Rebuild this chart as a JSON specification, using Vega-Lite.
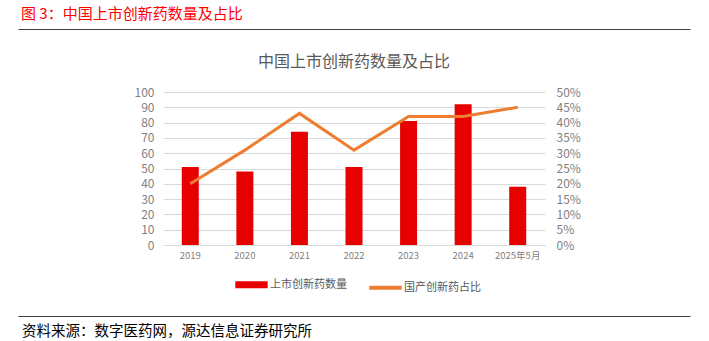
{
  "$schema": "https://vega.github.io/schema/vega-lite/v6.json",
  "padding": {"left": 18, "top": 7, "right": 19, "bottom": 0},
  "background": "white",
  "config": {"font": "Noto Sans CJK SC", "view": {"stroke": null}},
  "title": {"text": "图 3：中国上市创新药数量及占比", "anchor": "start", "color": "#ff0000", "fontSize": 15, "fontWeight": "normal", "offset": 6, "dx": 3},
  "center": true,
  "bounds": "flush",
  "spacing": 63,
  "resolve": {"scale": {"color": "independent"}, "legend": {"color": "independent"}},
  "vconcat": [
    {
      "width": 672,
      "height": 1,
      "data": {"values": [{"v": 0}, {"v": 1}]},
      "mark": {"type": "rule", "opacity": 0},
      "encoding": {
        "x": {"field": "v", "type": "quantitative", "scale": {"nice": false}, "axis": {"orient": "bottom", "labels": false, "ticks": false, "grid": false, "title": null, "domainColor": "#404040", "domainWidth": 1.2}}
      }
    },
    {
      "width": 382,
      "height": 153,
      "title": {"text": "中国上市创新药数量及占比", "anchor": "middle", "color": "#595959", "fontSize": 16, "fontWeight": "normal", "offset": 16},
      "data": {"values": [
        {"year": "2019", "count": 51, "share": 0.20},
        {"year": "2020", "count": 48, "share": 0.31},
        {"year": "2021", "count": 74, "share": 0.43},
        {"year": "2022", "count": 51, "share": 0.31},
        {"year": "2023", "count": 81, "share": 0.42},
        {"year": "2024", "count": 92, "share": 0.42},
        {"year": "2025年5月", "count": 38, "share": 0.45}
      ]},
      "encoding": {
        "x": {"field": "year", "type": "nominal", "sort": null, "axis": {"labelAngle": 0, "ticks": false, "title": null, "domainColor": "#d9d9d9", "labelColor": "#7f7f7f", "labelFontSize": 9.5, "labelPadding": 5}}
      },
      "layer": [
        {
          "mark": {"type": "bar", "size": 17},
          "encoding": {
            "y": {"field": "count", "type": "quantitative", "scale": {"domain": [0, 100]}, "axis": {"values": [0, 10, 20, 30, 40, 50, 60, 70, 80, 90, 100], "title": null, "domain": false, "ticks": false, "gridColor": "#d9d9d9", "labelColor": "#7f7f7f", "labelFontSize": 12, "labelPadding": 9}},
            "color": {"datum": "上市创新药数量", "type": "nominal", "scale": {"domain": ["上市创新药数量", "国产创新药占比"], "range": ["#e60000", "#ed7d31"]},
              "legend": {"orient": "none", "legendX": 83, "legendY": 187, "title": null, "direction": "horizontal", "symbolType": "stroke", "symbolSize": 1050, "labelFontSize": 11, "labelColor": "#595959", "columnPadding": 14, "labelOffset": 13,
                "encode": {"symbols": {"update": {"stroke": {"scale": "color", "field": "value"}, "strokeWidth": {"signal": "datum.value === '上市创新药数量' ? 7 : 4"}}}}}}
          }
        },
        {
          "mark": {"type": "line", "strokeWidth": 3},
          "encoding": {
            "y": {"field": "share", "type": "quantitative", "scale": {"domain": [0, 0.5]}, "axis": {"orient": "right", "format": ".0%", "values": [0, 0.05, 0.1, 0.15, 0.2, 0.25, 0.3, 0.35, 0.4, 0.45, 0.5], "title": null, "domain": false, "ticks": false, "grid": false, "labelColor": "#7f7f7f", "labelFontSize": 12, "labelPadding": 11}},
            "color": {"datum": "国产创新药占比", "type": "nominal"}
          }
        }
      ],
      "resolve": {"scale": {"y": "independent"}}
    },
    {
      "width": 672,
      "height": 8,
      "title": {"text": "资料来源：数字医药网，源达信息证券研究所", "orient": "bottom", "anchor": "start", "color": "#000000", "fontSize": 14.5, "fontWeight": "normal", "offset": 9, "dx": 4},
      "data": {"values": [{"v": 0}, {"v": 1}]},
      "mark": {"type": "rule", "opacity": 0},
      "encoding": {
        "x": {"field": "v", "type": "quantitative", "scale": {"nice": false}, "axis": {"orient": "bottom", "labels": false, "ticks": false, "grid": false, "title": null, "domainColor": "#404040", "domainWidth": 1.2}}
      }
    }
  ]
}
